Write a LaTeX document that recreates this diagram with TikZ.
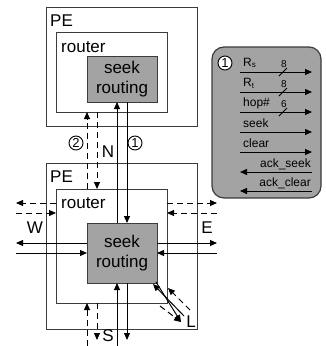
\documentclass[tikz,border=0pt]{standalone}
\usepackage{fontspec}
\setmainfont{Liberation Sans}
\usetikzlibrary{arrows.meta}
\definecolor{boxgray}{RGB}{163,163,163}
\definecolor{edge}{RGB}{60,60,60}
\begin{document}
\begin{tikzpicture}[x=1pt,y=-1pt,
  frame/.style={draw=edge,line width=0.9pt,anchor=north west,inner sep=0pt,outer sep=0pt},
  seekbox/.style={frame,fill=boxgray,align=center,font=\fontsize{17}{20}\selectfont,anchor=center},
  lbl/.style={font=\fontsize{17}{20}\selectfont,inner sep=0pt},
  tip/.style={-{Triangle[length=7pt,width=6pt]}},
  sol/.style={tip,line width=1pt,black},
  dsh/.style={tip,line width=1pt,black,dash pattern=on 6pt off 4pt},
  num/.style={circle,draw,fill=white,line width=0.9pt,minimum size=14pt,inner sep=0pt,font=\fontsize{13}{15}\selectfont},
  sig/.style={font=\fontsize{12}{14}\selectfont,inner sep=0pt},
  wid/.style={font=\fontsize{10}{12}\selectfont,inner sep=0pt}]
\useasboundingbox (0,0) rectangle (326,346);
\fill[white] (0,0) rectangle (326,346);
% upper PE
\node[frame,minimum width=151pt,minimum height=119pt] (upe) at (46,7) {};
\node[frame,minimum width=111pt,minimum height=80pt] (ur) at (56,32) {};
\node[seekbox,minimum width=70pt,minimum height=46pt] (us) at (122,79) {seek\\routing};
\node[lbl,anchor=west] (upel) at (50,21) {PE};
\node[lbl,anchor=west] (url) at (61,47) {router};
% lower PE
\node[frame,minimum width=151pt,minimum height=166pt] (lpe) at (46,163) {};
\node[frame,minimum width=111pt,minimum height=114pt] (lr) at (56,189) {};
\node[seekbox,minimum width=70pt,minimum height=60pt] (ls) at (122,253) {seek\\routing};
\node[lbl,anchor=west] (lpel) at (50,177) {PE};
\node[lbl,anchor=west] (lrl) at (61,203) {router};
% x positions
\coordinate (xa) at (87,0);
\coordinate (xb) at (97,0);
\coordinate (xc) at (117,0);
\coordinate (xd) at (127,0);
\coordinate (ya) at (0,203);
\coordinate (yb) at (0,213);
\coordinate (yc) at (0,243);
\coordinate (yd) at (0,253);
% north link
\draw[dsh] (lr.north -| xa) -- (ur.south -| xa);
\draw[dsh] (ur.south -| xb) -- (lr.north -| xb);
\draw[sol] (ls.north -| xc) -- (us.south -| xc);
\draw[sol] (us.south -| xd) -- (ls.north -| xd);
\node[num] (c2) at (76,143) {2};
\node[num] (c1) at (135,143) {1};
\node[lbl] (nl) at (108,152) {N};
% west
\coordinate (wa) at (16,203);
\coordinate (wb) at (16,213);
\coordinate (wc) at (16,243);
\coordinate (wd) at (16,253);
\draw[dsh] (lr.west |- ya) -- (wa);
\draw[dsh] (wb) -- (lr.west |- yb);
\draw[sol] (ls.west |- yc) -- (wc);
\draw[sol] (wd) -- (ls.west |- yd);
\node[lbl] (wl) at (35,228) {W};
% east
\coordinate (ea) at (217,203);
\coordinate (eb) at (217,213);
\coordinate (ec) at (217,243);
\coordinate (ed) at (217,253);
\draw[dsh] (lr.east |- ya) -- (ea);
\draw[dsh] (eb) -- (lr.east |- yb);
\draw[sol] (ls.east |- yc) -- (ec);
\draw[sol] (ed) -- (ls.east |- yd);
\node[lbl] (el) at (207,228) {E};
% south
\coordinate (sa) at (87,346);
\coordinate (sb) at (97,340);
\coordinate (sc) at (117,346);
\coordinate (sd) at (127,340);
\draw[dsh] (sa) -- (lr.south -| xa);
\draw[dsh] (lr.south -| xb) -- (sb);
\draw[sol] (sc) -- (ls.south -| xc);
\draw[sol] (ls.south -| xd) -- (sd);
\node[lbl] (sl) at (108,336) {S};
% local
\coordinate (la) at (184,316);
\coordinate (lb) at (181,322);
\coordinate (lc) at (190,310);
\coordinate (ld) at (160,306);
\coordinate (le) at (168,288);
\draw[sol] (la) -- ([shift={(-4,1)}]ls.south east);
\draw[sol] ([shift={(-1,-1)}]ls.south east) -- (lb);
\draw[dsh] (lc) -- (le);
\draw[dsh] (ld) -- (lb);
\node[lbl] (ll) at (191,322) {L};
% legend panel
\node[frame,fill=boxgray,rounded corners=12pt,line width=1.2pt,minimum width=109pt,minimum height=151pt] (panel) at (212,47) {};
\node[num] (pc1) at (225,63) {1};
\foreach \y/\t/\w [count=\i] in {72/R\textsubscript{s}/8, 92/R\textsubscript{t}/8, 112/hop\#/6}{
  \coordinate (pl\i) at (240,\y);
  \coordinate (pr\i) at (312,\y);
  \draw[sol] (pl\i) -- (pr\i);
  \node[sig,anchor=west] (pt\i) at (243,\y-9) {\t};
  \draw[line width=0.8pt] (279,\y+4) -- (287,\y-4);
  \node[wid] (pw\i) at (284,\y-8) {\w};
}
\foreach \y/\t [count=\i from 4] in {132/seek, 152/clear}{
  \coordinate (pl\i) at (240,\y);
  \coordinate (pr\i) at (312,\y);
  \draw[sol] (pl\i) -- (pr\i);
  \node[sig,anchor=west] (pt\i) at (243,\y-9) {\t};
}
\foreach \y/\t [count=\i from 6] in {172/ack\_seek, 191/ack\_clear}{
  \coordinate (pl\i) at (240,\y);
  \coordinate (pr\i) at (312,\y);
  \draw[sol] (pr\i) -- (pl\i);
  \node[sig,anchor=east] (pt\i) at (311,\y-8) {\t};
}
\end{tikzpicture}
\end{document}
